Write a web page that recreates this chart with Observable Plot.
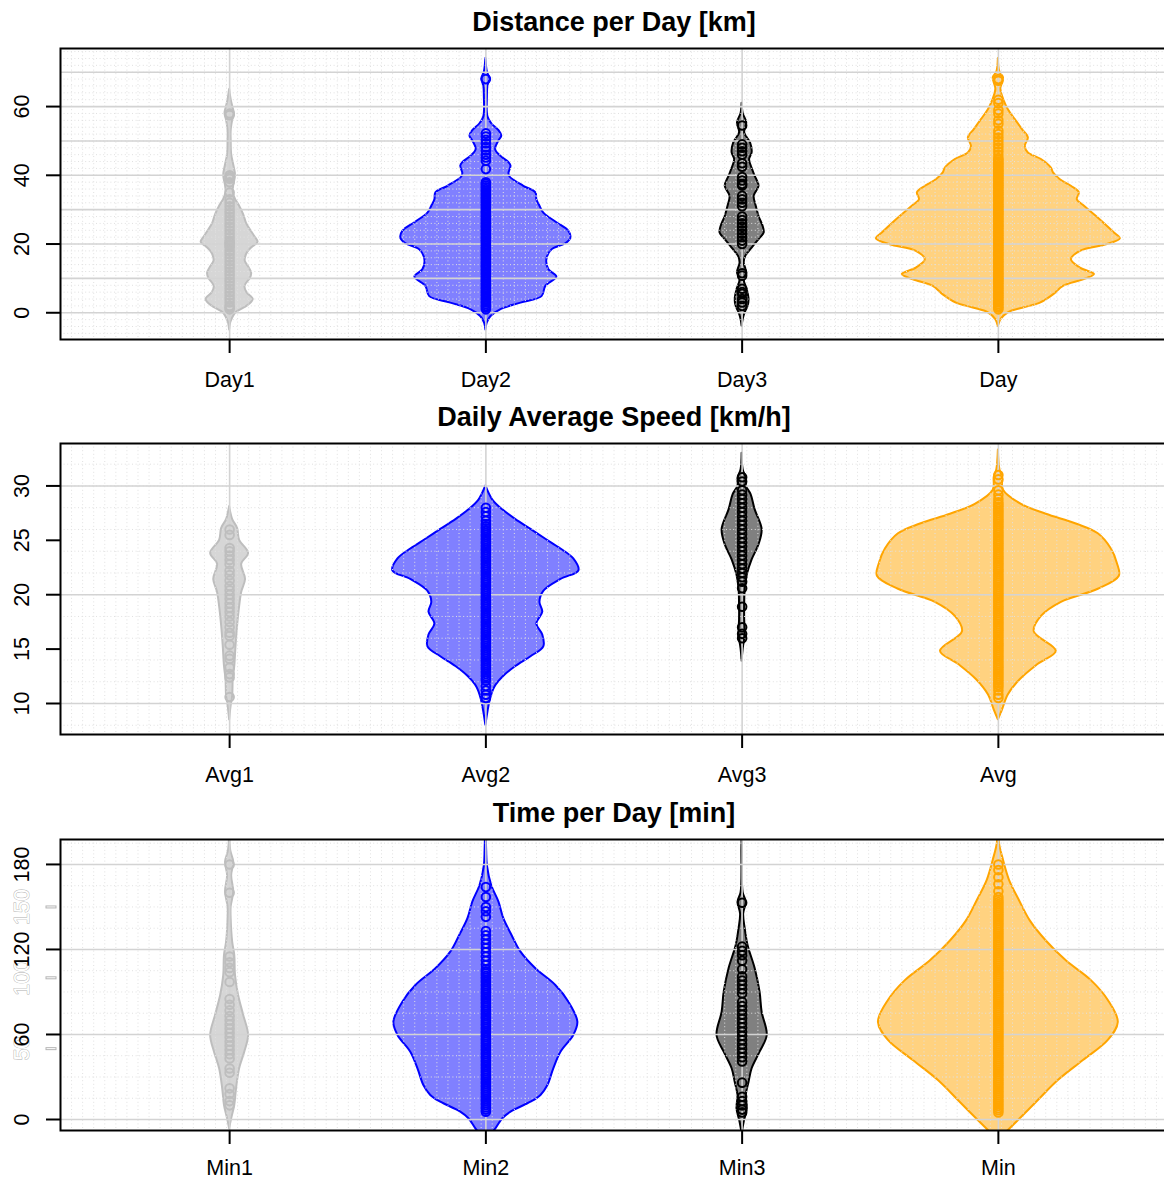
<!DOCTYPE html>
<html><head><meta charset="utf-8">
<script src="https://cdn.jsdelivr.net/npm/d3@7"></script>
<script src="https://cdn.jsdelivr.net/npm/@observablehq/plot@0.6"></script>
<style>
html,body{margin:0;padding:0;background:#fff;}
#chart{width:1164px;overflow:hidden;}
#chart svg{display:block;}
</style></head><body><div id="chart"></div>
<script>
// ---------- categories ----------
const distCats = ["Day1", "Day2", "Day3", "Day"];
const speedCats = ["Avg1", "Avg2", "Avg3", "Avg"];
const timeCats = ["Min1", "Min2", "Min3", "Min"];
const distTitle = "Distance per Day [km]";
const speedTitle = "Daily Average Speed [km/h]";
const timeTitle = "Time per Day [min]";
const distTicks = [0, 20, 40, 60];
const speedTicks = [10, 15, 20, 25, 30];
const timeTicks = [0, 60, 120, 180];
const timeTicksGray = [50, 100, 150];

// ---------- violin outlines: [value, half-width (hundredths of a category step)] ----------
const day1Shape = [[65,0],[62,0.6],[60,1.2],[58,1.8],[56,1.2],[53,0.6],[50,0.6],[46,0.8],[43,1.6],[40,2.3],[37,1.6],[35,1.4],[33,2.3],[31,3.9],[28.5,5.5],[26,6.6],[24,8.2],[22.2,9.8],[20.5,11.1],[19,8.8],[17.5,7],[16,6.2],[15,6.1],[13,7.7],[11.5,8.6],[10,8.1],[7.7,6],[5.8,6.8],[3.9,9.2],[2.4,7.7],[1.4,5.7],[0,2.5],[-1.5,1.2],[-3,0.4],[-5,0]];
const day2Shape = [[74,0],[70,0.6],[68,1.6],[66,0.8],[63,0.6],[57,0.8],[55,2.3],[53,5.1],[51.4,6.2],[50,5.1],[47.5,3.8],[45.5,5.9],[43.7,9],[42.7,9.8],[40.5,9],[39.5,9.4],[36.8,14.8],[34.9,19.5],[32.9,19.9],[31,21.1],[29,22.6],[26.2,27.7],[23.7,32.4],[21.7,33.2],[20.1,31.2],[18.3,25.8],[15.4,23.8],[12.5,24.6],[10.4,27.7],[7.7,23.4],[4.7,21.9],[2.8,13.7],[0.9,5.9],[-1.1,2],[-3,0.5],[-5,0]];
const day3Shape = [[61,0],[58,0.4],[55.3,1.8],[52.3,1],[49.4,3.3],[46.5,3.9],[44.6,2.9],[42,3.9],[39.7,5.1],[36.8,6.6],[33.9,4.7],[31,5.5],[28,6.6],[25.1,8.2],[23.2,8.6],[21.3,6.6],[18.8,3.9],[16.4,1.4],[14.5,0.8],[11.6,1.8],[9.6,0.8],[6.7,2],[3.8,2.7],[1.8,2.3],[0,1.2],[-2,0.4],[-4,0]];
const dayShape = [[74,0],[70,0.6],[68.4,2],[65,1],[61.6,2.3],[59.1,3.9],[56.2,6.6],[53.3,9.4],[50.9,11.7],[48.4,10.5],[46.5,11.7],[44.6,16.8],[42.1,20.7],[40.7,21.5],[38.7,24.2],[36.8,28.5],[34.9,31.6],[32.9,30.8],[31,33.6],[28,38.3],[25.1,42.6],[23.2,45.3],[21.5,47.6],[19.8,42.2],[17.9,32],[15.4,28.5],[13,32],[11.1,37.5],[9.6,33.2],[7.7,25.4],[5.2,21.5],[2.8,16.4],[1.4,9.8],[0,3.9],[-2,1],[-4,0]];

const avg1Shape = [[28.1,0],[26.9,1.2],[26.1,3.1],[25,3.9],[23.8,7.4],[22.8,4.7],[21.4,6.2],[20.2,4.7],[18.9,3.9],[17.1,3.1],[15.3,2.5],[13.4,2],[12.2,1.4],[10.7,1.2],[9.8,0.6],[8.5,0]];
const avg2Shape = [[30,0],[28.7,2.7],[27.8,6.6],[26.9,11.7],[26,17.6],[25.1,23.4],[24.2,29.3],[23.3,34.3],[22.2,36.3],[21.4,29.3],[20.3,22.6],[19.3,21.1],[18.4,22.2],[17.3,19.9],[16.3,22.2],[15.2,22.6],[14.3,17.6],[13.4,11.7],[12.5,7],[11.5,3.5],[10.4,1.8],[8,0]];
const avg3Shape = [[33,0],[31.5,0.4],[30.7,1.6],[30,1.6],[29.2,3.5],[27.8,5.1],[26,7.8],[24.6,6.6],[23.2,3.9],[21.8,2],[20.5,1.2],[19.1,1],[17.7,1],[16.3,1.2],[15,0.4],[13.9,0]];
const avgShape = [[33.3,0],[31.5,0.6],[30.8,1.6],[29.6,2],[28.3,9],[27.4,18.7],[26.5,30.4],[25.6,39],[24.2,44.1],[22.9,46.4],[21.7,47.2],[20.5,39],[19.3,24.6],[18,16.8],[16.6,14],[14.8,22.6],[13.6,15.6],[12.2,8.6],[10.8,3.9],[9.4,1.6],[8.5,0]];

const min1Shape = [[205,0],[190,0.4],[181.6,1.6],[172,0.8],[160.5,1.6],[150,0.6],[141.7,0.6],[125,1.2],[115.8,2],[101.6,2.3],[87.5,3.5],[73.4,5.5],[59.3,7.4],[47.5,5.9],[35.8,3.9],[21.7,2.7],[9.9,2],[0.5,0.8],[-6.5,0]];
const min2Shape = [[215,0],[190,0.3],[179,0.6],[165,2.3],[153.4,5.1],[141.7,7],[129.9,10.2],[118.1,13.7],[106.4,19.5],[94.6,27.3],[82.8,32.4],[68.7,35.9],[59.3,34.3],[47.5,29.3],[35.8,26.5],[24,24.2],[17,21.5],[12.2,17.6],[5.2,9.8],[0.5,6.6],[-6.6,3.9],[-15,0]];
const min3Shape = [[200,0],[191,0.1],[160,0.4],[153.4,1.6],[145,0.6],[134.6,1.2],[122.8,2.3],[106.4,5.1],[89.9,7],[75.7,7.8],[59.3,9.8],[47.5,7],[35.8,3.9],[26.3,2.7],[16.9,1.6],[7.5,2],[-1.9,0.8],[-10,0]];
const minShape = [[215,0],[195,0.4],[183,2],[169,4.3],[154.6,8.2],[140,12.5],[126,18.7],[112,26.5],[98,36.3],[84,42.9],[68.5,46.8],[55.8,42.9],[41.6,33.2],[27.5,23.4],[13.4,15.6],[2.8,9.8],[-7.8,3.9],[-15,0]];

// ---------- observations ----------
const day1Pts = [58, 57.5, 40, 39.5, 39, 38, 35, 33, 32, 31, 30, 29, 28, 27, 26, 25, 24, 23, 22, 21, 20.5, 20, 19.5, 19, 18, 17, 16, 15, 14, 13, 12, 11, 10, 9, 8, 7, 6, 5, 4, 3, 2, 1.5, 1];
const day2Pts = [68, 52.2, 51.3, 50.3, 49.3, 48.2, 47.2, 46, 45.2, 44.2, 41.8, 38, 37.5, 37, 36.5, 36, 35.5, 35, 34.5, 34, 33.5, 33, 32.5, 32, 31.5, 31, 30.5, 30, 29.5, 29, 28.5, 28, 27.5, 27, 26.5, 26, 25.5, 25, 24.5, 24, 23.5, 23, 22.5, 22, 21.5, 21, 20.5, 20, 19.5, 19, 18.5, 18, 17.5, 17, 16.5, 16, 15.5, 15, 14.5, 14, 13.5, 13, 12.5, 12, 11.5, 11, 10.5, 10, 9.5, 9, 8.5, 8, 7.5, 7, 6.5, 6, 5.5, 5, 4.5, 4, 3.5, 3, 2.5, 2, 1.5, 1];
const day3Pts = [54.5, 49, 48, 47, 46, 43.5, 42.5, 39.5, 38.5, 37.5, 37, 34, 33, 32, 31, 28, 27, 26, 25, 24, 23, 22, 21, 20, 11.5, 10.8, 7, 6, 5.5, 4, 3, 2];
const dayPts = [68, 67.5, 62, 61, 59, 58, 56, 55, 53, 52, 51, 50, 49, 48, 47, 46, 45, 44.5, 44, 43.5, 43, 42.5, 42, 41.5, 41, 40.5, 40, 39.5, 39, 38.5, 38, 37.5, 37, 36.5, 36, 35.5, 35, 34.5, 34, 33.5, 33, 32.5, 32, 31.5, 31, 30.5, 30, 29.5, 29, 28.5, 28, 27.5, 27, 26.5, 26, 25.5, 25, 24.5, 24, 23.5, 23, 22.5, 22, 21.5, 21, 20.5, 20, 19.5, 19, 18.5, 18, 17.5, 17, 16.5, 16, 15.5, 15, 14.5, 14, 13.5, 13, 12.5, 12, 11.5, 11, 10.5, 10, 9.5, 9, 8.5, 8, 7.5, 7, 6.5, 6, 5.5, 5, 4.5, 4, 3.5, 3, 2.5, 2, 1.5, 1];

const avg1Pts = [26, 25.5, 24.3, 24, 23.6, 23.2, 22.8, 22.2, 21.8, 21.3, 20.8, 20.4, 20, 19.6, 19.2, 18.8, 18.4, 18, 17.5, 17, 16.5, 16.2, 15.4, 14.4, 14.1, 13.3, 12.7, 12.4, 10.6];
const avg2Pts = [28, 27.6, 27.2, 26.8, 26.5, 26.3, 26.1, 25.9, 25.7, 25.5, 25.3, 25.1, 24.9, 24.7, 24.5, 24.3, 24.1, 23.9, 23.7, 23.5, 23.3, 23.1, 22.9, 22.7, 22.5, 22.3, 22.1, 21.9, 21.7, 21.5, 21.3, 21.1, 20.9, 20.7, 20.5, 20.3, 20.1, 19.9, 19.7, 19.5, 19.3, 19.1, 18.9, 18.7, 18.5, 18.3, 18.1, 17.9, 17.7, 17.5, 17.3, 17.1, 16.9, 16.7, 16.5, 16.3, 16.1, 15.9, 15.7, 15.5, 15.3, 15.1, 14.9, 14.7, 14.5, 14.3, 14.1, 13.9, 13.7, 13.5, 13.3, 13.1, 12.9, 12.7, 12.5, 12.3, 12.1, 11.6, 11.2, 10.8, 10.5];
const avg3Pts = [30.8, 30.4, 29.6, 29.2, 28.8, 28.4, 28, 27.6, 27.2, 26.8, 26.4, 26, 25.6, 25.2, 24.8, 24.4, 24, 23.6, 23.2, 22.8, 22.4, 22, 21.6, 21.2, 20.6, 18.9, 17, 16.4, 16];
const avgPts = [31, 30.6, 29.6, 29.2, 28.8, 28.5, 28.3, 28.1, 27.9, 27.7, 27.5, 27.3, 27.1, 26.9, 26.7, 26.5, 26.3, 26.1, 25.9, 25.7, 25.5, 25.3, 25.1, 24.9, 24.7, 24.5, 24.3, 24.1, 23.9, 23.7, 23.5, 23.3, 23.1, 22.9, 22.7, 22.5, 22.3, 22.1, 21.9, 21.7, 21.5, 21.3, 21.1, 20.9, 20.7, 20.5, 20.3, 20.1, 19.9, 19.7, 19.5, 19.3, 19.1, 18.9, 18.7, 18.5, 18.3, 18.1, 17.9, 17.7, 17.5, 17.3, 17.1, 16.9, 16.7, 16.5, 16.3, 16.1, 15.9, 15.7, 15.5, 15.3, 15.1, 14.9, 14.7, 14.5, 14.3, 14.1, 13.9, 13.7, 13.5, 13.3, 13.1, 12.9, 12.7, 12.5, 12.3, 12.1, 11.9, 11.7, 11.5, 11.2, 10.8, 10.5];

const min1Pts = [180, 160, 115, 111, 107, 104, 97, 85, 81, 77, 73, 70, 67, 64, 61, 58, 55, 52, 49, 46, 43, 36, 33, 22, 18, 13, 10];
const min2Pts = [164, 157, 150, 147, 143, 133, 130, 127, 124, 121, 118, 115, 112, 109, 106, 104.5, 103, 101.5, 100, 98.5, 97, 95.5, 94, 92.5, 91, 89.5, 88, 86.5, 85, 83.5, 82, 80.5, 79, 77.5, 76, 74.5, 73, 71.5, 70, 68.5, 67, 65.5, 64, 62.5, 61, 59.5, 58, 56.5, 55, 53.5, 52, 50.5, 49, 47.5, 46, 44.5, 43, 41.5, 40, 38.5, 37, 35.5, 34, 32.5, 31, 29.5, 28, 26.5, 25, 23.5, 22, 20.5, 19, 17.5, 16, 14.5, 13, 11.5, 10, 8.5, 7, 5.5];
const min3Pts = [153, 122, 119, 116, 112, 106, 101, 98, 95, 92, 89, 83, 80, 77, 74, 71, 68, 65, 62, 59, 56, 53, 50, 47, 44, 41, 26, 16, 13, 10, 7, 5];
const minPts = [180, 176, 171, 166, 161, 157, 155, 153.5, 152, 150.5, 149, 147.5, 146, 144.5, 143, 141.5, 140, 138.5, 137, 135.5, 134, 132.5, 131, 129.5, 128, 126.5, 125, 123.5, 122, 120.5, 119, 117.5, 116, 114.5, 113, 111.5, 110, 108.5, 107, 105.5, 104, 102.5, 101, 99.5, 98, 96.5, 95, 93.5, 92, 90.5, 89, 87.5, 86, 84.5, 83, 81.5, 80, 78.5, 77, 75.5, 74, 72.5, 71, 69.5, 68, 66.5, 65, 63.5, 62, 60.5, 59, 57.5, 56, 54.5, 53, 51.5, 50, 48.5, 47, 45.5, 44, 42.5, 41, 39.5, 38, 36.5, 35, 33.5, 32, 30.5, 29, 27.5, 26, 24.5, 23, 21.5, 20, 18.5, 17, 15.5, 14, 12.5, 11, 9.5, 8, 6.5, 5];

// ---------- styling ----------
const fills = ["#d6d6d6", "#8080ff", "#808080", "#ffd280"];
const strokes = ["#bebebe", "#0000ff", "#000000", "#ffa500"];
const FONT = "'Liberation Sans', Arial, Helvetica, sans-serif";
const TICK_FONT = 21.5;
const xDomain = [0.34, 4.66];
const vDots = d3.range(101).map(k => xDomain[0] + (xDomain[1] - xDomain[0]) * k / 100);

function makePanel(cfg) {
  const marks = [];
  cfg.shapes.forEach((shape, i) => {
    const c = i + 1;
    marks.push(Plot.areaX(shape, {
      y: d => d[0], x1: d => c - d[1] / 100, x2: d => c + d[1] / 100,
      fill: fills[i], stroke: strokes[i], strokeWidth: 2,
      curve: "catmull-rom", clip: true
    }));
  });
  marks.push(Plot.ruleX(vDots, {stroke: "#e0e0e0", strokeWidth: 1, strokeDasharray: "1,2.6"}));
  marks.push(Plot.ruleY(cfg.minor, {stroke: "#e0e0e0", strokeWidth: 1, strokeDasharray: "1,2.6"}));
  marks.push(Plot.ruleY(cfg.major, {stroke: "#d3d3d3", strokeWidth: 1.6}));
  marks.push(Plot.ruleX([1, 2, 3, 4], {stroke: "#d3d3d3", strokeWidth: 1.6}));
  cfg.pts.forEach((p, i) => {
    marks.push(Plot.dot(p, {x: i + 1, y: d => d, r: 4.3, fill: "none", stroke: strokes[i], strokeWidth: 2, clip: true}));
  });
  marks.push(Plot.frame({stroke: "black", strokeWidth: 2}));
  if (cfg.grayTicks) {
    marks.push(Plot.axisY({ticks: cfg.grayTicks, tickSize: 11, dx: -3.5, stroke: "#b5b5b5", strokeWidth: 3, tickFormat: () => ""}));
    marks.push(Plot.axisY({ticks: cfg.grayTicks, tickSize: 9, dx: -4.5, stroke: "#ffffff", strokeWidth: 1, tickFormat: () => ""}));
    marks.push(Plot.text(cfg.grayTicks, {
      y: d => d, text: d => String(d), frameAnchor: "left", dx: -31.5, rotate: -90,
      textAnchor: "middle", lineAnchor: "bottom", fontSize: TICK_FONT,
      fill: "white", stroke: "#b0b0b0", strokeWidth: 0.9
    }));
  }
  marks.push(Plot.axisY({ticks: cfg.yTicks, tickSize: 14, tickPadding: 17.5, tickRotate: -90, fontSize: TICK_FONT, strokeWidth: 2, tickFormat: d => String(d)}));
  marks.push(Plot.axisX({ticks: [1, 2, 3, 4], tickSize: 14, tickPadding: cfg.xPad, fontSize: TICK_FONT, strokeWidth: 2, tickFormat: d => cfg.cats[d - 1]}));
  marks.push(Plot.text([cfg.title], {frameAnchor: "top", dy: -26, fontSize: 27, fontWeight: "bold", lineAnchor: "middle"}));
  return Plot.plot({
    width: 1164, height: cfg.height,
    marginLeft: 60, marginRight: -3, marginTop: 48, marginBottom: cfg.height - 48 - 291,
    x: {domain: xDomain}, y: {domain: cfg.yDomain},
    style: {fontFamily: FONT, background: "white", color: "black", overflow: "visible"},
    marks
  });
}

const chart = document.getElementById("chart");
chart.append(makePanel({
  title: distTitle, cats: distCats, yTicks: distTicks, yDomain: [-7.78, 76.9], height: 395, xPad: 18,
  shapes: [day1Shape, day2Shape, day3Shape, dayShape], pts: [day1Pts, day2Pts, day3Pts, dayPts],
  major: [0, 10, 20, 30, 40, 50, 60, 70], minor: d3.range(-6, 77, 2)
}));
chart.append(makePanel({
  title: speedTitle, cats: speedCats, yTicks: speedTicks, yDomain: [7.15, 33.9], height: 396, xPad: 18,
  shapes: [avg1Shape, avg2Shape, avg3Shape, avgShape], pts: [avg1Pts, avg2Pts, avg3Pts, avgPts],
  major: [10, 20, 30], minor: d3.range(8, 34, 2)
}));
chart.append(makePanel({
  title: timeTitle, cats: timeCats, yTicks: timeTicks, yDomain: [-7.76, 197.6], height: 390, xPad: 15.5,
  shapes: [min1Shape, min2Shape, min3Shape, minShape], pts: [min1Pts, min2Pts, min3Pts, minPts],
  major: [0, 60, 120, 180], minor: d3.range(0, 198, 15), grayTicks: timeTicksGray
}));
</script></body></html>
